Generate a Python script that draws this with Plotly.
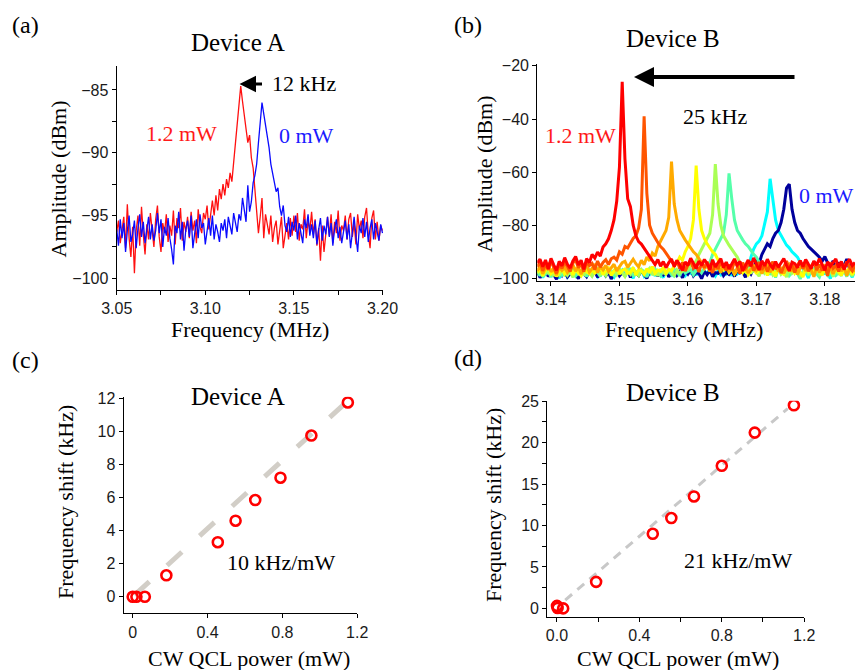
import plotly.graph_objects as go

# ---------------- data ----------------
# Panel (a): Device A spectra, frequency grid 3.050 .. 3.200 MHz, step 1 kHz
freq_a_start = 3.05
freq_a_step = 0.001
amp_a_12mW = [
    -96.3, -95.4, -97.2, -96.0, -95.1, -97.6, -94.1, -96.8, -98.3, -95.9,
    -99.6, -96.2, -95.0, -97.4, -94.3, -96.5, -98.1, -95.7, -96.9, -94.8,
    -96.1, -97.5, -95.3, -94.2, -96.7, -97.9, -95.6, -96.4, -94.9, -97.1,
    -95.8, -96.6, -94.6, -97.3, -95.2, -96.0, -94.4, -97.0, -95.5, -96.3,
    -95.1, -96.8, -94.7, -96.2, -95.4, -97.2, -94.5, -95.9, -96.4, -94.8,
    -95.3, -94.2, -96.1, -94.9, -93.8, -95.0, -93.4, -94.6, -92.9, -93.7,
    -92.5, -93.4, -92.1, -92.8, -91.6, -92.3, -90.8, -89.6, -88.1, -86.4,
    -84.7, -85.9, -86.9, -87.8, -89.2, -88.6, -90.4, -91.2, -92.8, -94.9,
    -96.4, -95.1, -93.6, -96.8, -94.9, -95.7, -96.5, -95.0, -97.1, -96.0,
    -95.4, -97.3, -96.2, -95.1, -97.6, -96.4, -95.6, -96.9, -95.2, -96.6,
    -95.0, -96.3, -94.8, -97.0, -95.7, -96.1, -94.5, -96.8, -95.4, -96.2,
    -94.7, -96.5, -95.3, -97.4, -96.0, -98.6, -95.8, -97.9, -96.3, -95.1,
    -96.6, -94.9, -97.2, -95.5, -96.4, -94.6, -97.0, -95.8, -96.2, -95.0,
    -96.9, -95.3, -94.8, -96.7, -95.6, -97.3, -94.9, -96.1, -95.4, -96.8,
    -95.1, -94.4, -96.5, -97.6, -95.2, -94.6, -96.9, -95.5, -97.0, -95.8, -96.2,
]
amp_a_0mW = [
    -96.1, -97.4, -95.3, -96.8, -95.6, -97.9, -96.2, -95.0, -97.1, -96.5,
    -95.4, -97.6, -96.0, -94.9, -96.7, -95.5, -97.2, -96.3, -95.1, -96.9,
    -95.7, -97.0, -96.2, -94.8, -96.4, -95.3, -97.5, -95.9, -96.6, -95.2,
    -96.8, -97.7, -98.9, -95.8, -96.4, -94.7, -96.9, -95.5, -97.8, -96.1,
    -95.4, -96.7, -95.0, -97.6, -96.2, -95.3, -96.8, -94.9, -96.0, -95.6,
    -97.3, -96.1, -95.2, -96.6, -95.0, -96.9, -95.7, -96.3, -97.1, -95.6,
    -96.2, -95.3, -96.8, -95.1, -95.9, -96.5, -94.8, -95.7, -96.3, -94.9,
    -95.4, -93.6, -94.8, -95.5, -92.6, -94.7, -93.9, -92.4, -91.8, -90.9,
    -89.2, -87.6, -86.0, -86.9, -87.8, -88.9, -89.6, -90.9, -91.7, -92.6,
    -93.1, -92.8, -94.3, -95.0, -94.2, -95.8, -96.3, -95.1, -96.7, -95.5,
    -96.2, -95.0, -96.9, -95.6, -96.4, -97.2, -95.3, -96.0, -94.9, -96.6,
    -95.7, -96.8, -95.4, -97.3, -96.1, -95.2, -97.0, -95.8, -96.5, -95.1,
    -96.7, -95.6, -97.4, -96.0, -95.3, -96.8, -95.9, -97.2, -96.3, -95.4,
    -96.9, -95.7, -97.6, -96.2, -95.1, -96.6, -97.9, -95.8, -96.4, -95.2,
    -96.7, -95.5, -97.1, -96.0, -95.3, -96.9, -95.6, -96.3, -97.0, -95.7, -96.4,
]

# Panel (b): Device B spectra, frequency grid 3.1380 .. 3.1844 MHz, step 0.4 kHz
freq_b_start = 3.138
freq_b_step = 0.0004
amp_b_darkblue = [
    -97.2, -99.8, -98.1, -96.7, -99.3, -97.9, -98.6, -100.3, -97.4, -98.9,
    -97.0, -99.5, -98.3, -96.9, -98.7, -100.1, -97.6, -98.2, -99.4, -97.3,
    -98.8, -97.1, -99.6, -98.0, -96.8, -99.0, -97.7, -100.2, -98.4, -97.5,
    -99.1, -97.8, -98.5, -96.6, -99.7, -97.2, -98.3, -99.0, -97.0, -98.6,
    -100.0, -97.4, -98.1, -96.9, -99.2, -97.6, -98.7, -97.1, -99.5, -98.0,
    -96.8, -98.9, -97.5, -99.8, -97.0, -98.4, -96.7, -99.1, -97.8, -98.2,
    -100.1, -97.3, -98.6, -97.0, -99.4, -97.9, -98.1, -96.6, -99.0, -97.7,
    -98.5, -97.2, -99.3, -96.9, -98.0, -97.6, -99.6, -97.1, -98.4, -96.3,
    -93.0, -94.5, -91.0, -89.0, -87.0, -88.0, -85.0, -83.0, -82.0, -79.0,
    -74.0, -66.0, -64.5, -74.0, -79.0, -82.0, -83.0, -85.0, -86.5, -88.0,
    -89.0, -90.0, -91.0, -92.0, -93.6, -91.8, -94.2, -95.5, -93.4, -96.1,
    -94.0, -96.8, -95.2, -92.7, -96.5, -94.4, -97.0,
]
amp_b_cyan = [
    -98.8, -97.3, -99.7, -98.0, -96.9, -99.2, -97.6, -98.5, -100.0, -97.1,
    -98.3, -99.5, -97.0, -98.9, -97.7, -99.8, -96.8, -98.2, -99.1, -97.4,
    -98.6, -97.2, -99.4, -98.1, -96.7, -99.0, -97.8, -98.7, -99.6, -97.5,
    -98.0, -96.9, -99.3, -97.6, -98.4, -99.9, -97.3, -98.8, -97.0, -99.2,
    -97.9, -98.5, -96.6, -99.1, -97.4, -98.2, -99.7, -97.1, -98.6, -97.8,
    -99.4, -97.0, -98.3, -96.8, -99.0, -97.7, -98.1, -96.5, -98.8, -97.2,
    -99.5, -97.6, -98.0, -96.7, -97.9, -99.2, -97.4, -98.6, -96.9, -98.3,
    -97.1, -99.0, -96.8, -98.4, -97.6, -96.5, -98.0, -97.0, -92.0, -89.0,
    -87.0, -86.0, -84.0, -80.0, -75.0, -62.5, -70.0, -78.0, -82.0, -84.0,
    -86.0, -87.5, -88.5, -90.0, -91.0, -92.0, -94.0, -96.3, -97.8, -99.9,
    -96.7, -98.4, -97.2, -99.3, -96.9, -98.1, -97.5, -100.1, -96.6, -98.7,
    -97.4, -99.0, -96.8, -98.3, -97.7, -99.6, -97.0,
]
amp_b_green = [
    -97.5, -99.0, -96.8, -98.4, -97.2, -99.6, -96.5, -98.0, -97.7, -99.2,
    -96.9, -98.6, -97.4, -96.6, -99.1, -97.9, -98.3, -96.7, -99.4, -97.1,
    -98.2, -96.4, -97.8, -99.3, -97.0, -98.5, -96.9, -97.6, -99.0, -98.1,
    -96.6, -97.3, -98.8, -97.5, -96.2, -99.2, -97.9, -98.4, -96.8, -97.4,
    -99.5, -97.0, -98.1, -96.5, -97.7, -99.0, -96.9, -98.3, -97.2, -98.6,
    -96.7, -97.4, -99.1, -96.3, -98.0, -97.5, -96.8, -98.7, -97.1, -96.4,
    -97.9, -96.2, -95.5, -94.0, -91.0, -89.0, -87.0, -85.0, -83.0, -76.0,
    -60.5, -70.0, -78.0, -82.0, -84.0, -85.5, -87.0, -88.0, -89.5, -91.0,
    -92.0, -93.8, -95.6, -97.9, -96.4, -98.6, -97.0, -99.7, -96.5, -98.2,
    -97.3, -96.6, -99.0, -97.8, -96.1, -98.5, -100.2, -97.4, -96.8, -98.9,
    -97.1, -96.4, -98.3, -99.5, -96.9, -97.6, -98.8, -96.3, -97.9, -99.1,
    -96.7, -98.0, -97.2, -99.3, -96.5, -98.4, -97.0,
]
amp_b_yellowgreen = [
    -98.3, -97.0, -99.4, -96.8, -98.0, -97.5, -99.1, -96.6, -98.7, -97.3,
    -96.9, -98.8, -97.4, -99.6, -96.5, -98.2, -97.1, -98.9, -96.7, -97.8,
    -99.2, -97.2, -96.4, -98.5, -97.6, -99.0, -96.9, -98.1, -97.0, -98.6,
    -96.6, -97.9, -99.3, -97.1, -98.4, -96.3, -97.7, -99.0, -96.8, -98.2,
    -97.4, -96.2, -98.7, -97.0, -99.1, -96.5, -97.9, -98.4, -96.7, -97.6,
    -99.0, -96.9, -98.0, -97.3, -96.1, -96.6, -95.2, -94.4, -93.5, -91.0,
    -89.0, -87.0, -85.0, -83.0, -76.0, -57.0, -72.0, -80.0, -84.0, -86.0,
    -87.5, -89.0, -90.5, -92.0, -94.1, -96.2, -97.5, -95.9, -98.1, -96.6,
    -97.8, -99.2, -96.4, -98.0, -97.1, -96.3, -98.7, -97.5, -96.0, -98.4,
    -97.2, -99.5, -96.8, -98.1, -97.0, -96.5, -98.9, -97.6, -96.2, -98.3,
    -97.4, -99.0, -96.7, -98.5, -97.3, -96.1, -98.8, -97.0, -99.4, -96.9,
    -98.2, -97.1, -96.6, -98.6, -97.5, -99.1, -96.8,
]
amp_b_yellow = [
    -97.8, -96.3, -98.9, -97.0, -95.7, -98.2, -96.9, -99.3, -97.4, -96.1,
    -98.5, -97.2, -95.9, -98.7, -96.6, -97.9, -99.0, -96.4, -97.6, -98.3,
    -96.8, -98.0, -97.1, -95.8, -98.6, -97.3, -96.2, -98.9, -97.5, -96.0,
    -98.4, -97.0, -96.5, -98.1, -97.7, -95.9, -98.8, -96.7, -97.2, -98.5,
    -96.3, -97.9, -95.6, -98.2, -96.9, -97.4, -95.8, -98.0, -96.6, -97.1,
    -95.4, -94.2, -92.0, -93.1, -90.0, -88.0, -85.0, -78.0, -57.5, -74.0,
    -82.0, -85.0, -87.0, -88.5, -90.0, -91.0, -93.2, -95.0, -96.8, -95.4,
    -97.6, -96.2, -98.4, -96.9, -95.5, -97.8, -96.4, -98.7, -97.1, -95.9,
    -98.2, -96.7, -97.5, -95.8, -98.9, -96.5, -97.3, -99.2, -96.0, -97.7,
    -98.5, -96.3, -97.0, -95.6, -98.1, -96.8, -97.9, -99.5, -96.2, -97.4,
    -95.9, -98.3, -96.6, -97.2, -98.8, -96.1, -97.5, -95.7, -98.4, -96.9,
    -97.3, -99.0, -96.4, -97.8, -95.8, -98.6, -96.7,
]
amp_b_orange = [
    -97.1, -95.4, -98.3, -96.0, -94.8, -97.5, -96.2, -98.8, -95.6, -97.0,
    -95.9, -97.8, -96.4, -94.9, -97.3, -95.7, -98.4, -96.1, -95.0, -97.6,
    -96.3, -94.6, -97.9, -95.5, -96.8, -95.1, -97.4, -96.0, -94.7, -97.2,
    -95.8, -94.1, -93.6, -95.9, -94.3, -92.8, -94.5, -95.7, -93.2, -94.9,
    -92.0, -93.4, -90.5, -91.6, -88.0, -86.0, -84.0, -82.0, -77.0, -56.0,
    -72.0, -78.0, -82.0, -84.0, -85.5, -87.0, -88.5, -90.0, -91.0, -92.5,
    -94.1, -96.3, -95.0, -97.4, -94.6, -96.8, -95.3, -97.9, -94.4, -96.1,
    -97.6, -95.2, -98.5, -96.0, -94.8, -97.3, -95.9, -98.0, -96.4, -94.9,
    -97.0, -95.6, -98.2, -96.3, -95.1, -97.7, -96.0, -94.7, -97.4, -95.8,
    -98.1, -96.2, -94.9, -97.5, -95.4, -98.6, -96.1, -95.0, -97.2, -95.7,
    -96.9, -99.4, -95.5, -97.8, -96.3, -94.8, -97.1, -95.9, -98.3, -96.0,
    -94.6, -97.3, -95.8, -99.0, -96.5, -95.2, -97.6,
]
amp_b_orangered = [
    -95.6, -93.9, -97.2, -94.5, -96.8, -93.4, -95.9, -98.1, -94.7, -96.3,
    -93.8, -95.5, -97.4, -94.2, -93.1, -96.0, -94.6, -97.5, -93.7, -95.2,
    -94.4, -96.7, -93.5, -95.8, -94.0, -93.0, -94.8, -92.6, -92.0, -93.1,
    -90.0, -90.9, -88.0, -88.6, -86.5, -85.0, -84.0, -81.0, -74.0, -39.0,
    -68.0, -80.0, -83.0, -85.0, -86.5, -88.0, -89.0, -90.5, -92.0, -93.6,
    -95.1, -93.2, -96.4, -94.0, -97.3, -94.9, -93.5, -96.2, -95.0, -97.6,
    -94.3, -96.0, -93.8, -95.7, -97.9, -94.6, -96.5, -93.9, -95.3, -97.0,
    -94.8, -96.9, -93.6, -95.5, -98.2, -94.1, -96.3, -95.0, -93.7, -97.1,
    -95.4, -93.9, -96.8, -94.4, -97.5, -95.2, -93.8, -96.6, -94.9, -98.0,
    -95.7, -93.5, -96.1, -94.7, -97.8, -95.0, -93.4, -96.4, -94.2, -97.3,
    -95.5, -93.6, -96.9, -94.8, -97.0, -95.3, -99.1, -94.0, -96.2, -95.1,
    -97.4, -94.5, -96.0, -93.7, -95.8, -97.2, -94.9,
]
amp_b_red = [
    -94.2, -92.8, -95.6, -93.1, -96.4, -92.5, -94.9, -97.0, -93.6, -95.3,
    -92.2, -94.7, -96.1, -93.4, -91.8, -95.0, -93.2, -96.6, -92.6, -94.1,
    -91.0, -92.4, -90.1, -91.6, -88.2, -87.0, -85.1, -82.0, -78.0, -71.0,
    -58.0, -26.0, -55.0, -70.0, -73.0, -80.0, -84.0, -86.2, -87.1, -88.6,
    -90.2, -91.6, -93.0, -94.8, -92.9, -95.4, -93.7, -96.0, -94.1, -92.7,
    -95.6, -93.3, -94.9, -97.1, -93.8, -95.2, -92.4, -94.6, -96.3, -93.5,
    -95.1, -92.9, -94.4, -96.8, -93.0, -95.7, -94.0, -92.6, -95.9, -93.9,
    -96.5, -94.3, -92.7, -95.0, -93.6, -97.2, -94.8, -93.1, -95.5, -92.3,
    -94.6, -96.9, -93.4, -95.3, -92.8, -94.9, -96.2, -93.7, -95.8, -94.2,
    -92.5, -95.1, -97.3, -93.9, -94.5, -96.0, -93.3, -95.6, -92.9, -94.7,
    -96.4, -93.5, -95.0, -92.6, -94.8, -97.0, -93.8, -95.4, -94.1, -92.7,
    -95.9, -93.6, -96.7, -94.3, -92.8, -95.2, -94.0,
]

# Panel (c): Device A frequency shift vs CW QCL power
power_c = [0.0, 0.02, 0.065, 0.18, 0.455, 0.55, 0.655, 0.79, 0.955, 1.15]
shift_c = [0.0, 0.0, 0.0, 1.3, 3.3, 4.6, 5.85, 7.2, 9.75, 11.75]
fit_c_x = [0.01, 1.15]
fit_c_y = [0.1, 11.85]

# Panel (d): Device B frequency shift vs CW QCL power
power_d = [0.0, 0.003, 0.03, 0.19, 0.465, 0.555, 0.665, 0.80, 0.96, 1.15]
shift_d = [0.3, 0.05, 0.0, 3.2, 9.0, 10.9, 13.5, 17.2, 21.2, 24.5]
fit_d_x = [0.04, 1.12]
fit_d_y = [1.0, 24.1]

# ---------------- figure ----------------
W, H = 855, 670
SERIF = "Liberation Serif, Times New Roman, serif"
SANS = "Liberation Sans, Arial, sans-serif"


def px(x):
    return x / W


def py(y):
    return 1 - y / H


freq_a = [round(freq_a_start + freq_a_step * i, 5) for i in range(len(amp_a_0mW))]
freq_b = [round(freq_b_start + freq_b_step * i, 5) for i in range(len(amp_b_red))]

fig = go.Figure()

# (a)
fig.add_trace(go.Scatter(x=freq_a, y=amp_a_12mW, mode="lines",
                         line=dict(color="#ff1010", width=1.3), xaxis="x", yaxis="y"))
fig.add_trace(go.Scatter(x=freq_a, y=amp_a_0mW, mode="lines",
                         line=dict(color="#0a0aff", width=1.3), xaxis="x", yaxis="y"))

# (b)
b_series = [
    (amp_b_cyan, "#00ffff"),
    (amp_b_darkblue, "#00009c"),
    (amp_b_green, "#55ffaa"),
    (amp_b_yellowgreen, "#aaff55"),
    (amp_b_yellow, "#ffff00"),
    (amp_b_orange, "#ffaa00"),
    (amp_b_orangered, "#ff5500"),
    (amp_b_red, "#ff0000"),
]
for vals, col in b_series:
    fig.add_trace(go.Scatter(x=freq_b, y=vals, mode="lines",
                             line=dict(color=col, width=3.0), xaxis="x2", yaxis="y2"))

# (c)
fig.add_trace(go.Scatter(x=fit_c_x, y=fit_c_y, mode="lines",
                         line=dict(color="#d2cec7", width=5, dash="20px,24px"),
                         xaxis="x3", yaxis="y3"))
fig.add_trace(go.Scatter(x=power_c, y=shift_c, mode="markers",
                         marker=dict(symbol="circle-open", size=10, color="#ff0000",
                                     line=dict(width=2.6, color="#ff0000")),
                         xaxis="x3", yaxis="y3"))

# (d)
fig.add_trace(go.Scatter(x=fit_d_x, y=fit_d_y, mode="lines",
                         line=dict(color="#c8c8c8", width=3, dash="9px,7px"),
                         xaxis="x4", yaxis="y4"))
fig.add_trace(go.Scatter(x=power_d, y=shift_d, mode="markers",
                         marker=dict(symbol="circle-open", size=10, color="#ff0000",
                                     line=dict(width=2.6, color="#ff0000")),
                         xaxis="x4", yaxis="y4"))

tick_font = dict(family=SANS, size=16, color="#1a1a1a")
base_axis = dict(showline=True, linecolor="black", linewidth=1.3, ticks="outside",
                 ticklen=4, tickwidth=1.2, tickcolor="black", showgrid=False,
                 zeroline=False, tickfont=tick_font, mirror=False, ticklabelstandoff=0,
                 automargin=False)
minor_style = dict(ticks="outside", ticklen=4, tickwidth=1.2, tickcolor="black", showgrid=False)

fig.update_layout(
    width=W, height=H, margin=dict(l=0, r=0, t=0, b=0, autoexpand=False),
    paper_bgcolor="white", plot_bgcolor="white", showlegend=False,
    xaxis=dict(base_axis, domain=[px(116.7), px(383)], range=[3.05, 3.2003], anchor="y",
               tickvals=[3.05, 3.10, 3.15, 3.20], ticktext=["3.05", "3.10", "3.15", "3.20"],
               minor=dict(minor_style, tickvals=[3.075, 3.125, 3.175])),
    yaxis=dict(base_axis, domain=[py(290), py(65.7)], range=[-100.93, -83.07], anchor="x",
               tickvals=[-100, -95, -90, -85],
               minor=dict(minor_style, tickvals=[-97.5, -92.5, -87.5])),
    xaxis2=dict(base_axis, domain=[px(537.3), 1.0], range=[3.138, 3.1844], anchor="y2",
                tickvals=[3.14, 3.15, 3.16, 3.17, 3.18],
                ticktext=["3.14", "3.15", "3.16", "3.17", "3.18"]),
    yaxis2=dict(base_axis, domain=[py(281), py(64.3)], range=[-101, -19.4], anchor="x2",
                tickvals=[-100, -80, -60, -40, -20]),
    xaxis3=dict(base_axis, domain=[px(123.7), px(357.3)], range=[-0.048, 1.2005], anchor="y3",
                tickvals=[0, 0.4, 0.8, 1.2], ticktext=["0", "0.4", "0.8", "1.2"]),
    yaxis3=dict(base_axis, domain=[py(613.3), py(396.7)], range=[-1.0, 12.1], anchor="x3",
                tickvals=[0, 2, 4, 6, 8, 10, 12]),
    xaxis4=dict(base_axis, domain=[px(547.3), px(804.3)], range=[-0.047, 1.2005], anchor="y4",
                tickvals=[0, 0.4, 0.8, 1.2], ticktext=["0.0", "0.4", "0.8", "1.2"],
                minor=dict(minor_style, tickvals=[0.2, 0.6, 1.0])),
    yaxis4=dict(base_axis, domain=[py(616.7), py(400.7)], range=[-1.0, 25.05], anchor="x4",
                tickvals=[0, 5, 10, 15, 20, 25],
                minor=dict(minor_style, tickvals=[2.5, 7.5, 12.5, 17.5, 22.5])),
)


def label(text, x, y, size=22, color="black", angle=0, xanchor="center"):
    fig.add_annotation(text=text, x=px(x), y=py(y), xref="paper", yref="paper",
                       showarrow=False, textangle=angle, xanchor=xanchor, yanchor="middle",
                       font=dict(family=SERIF, size=size, color=color))


# panel letters
label("(a)", 25, 25, size=24)
label("(b)", 468, 25, size=24)
label("(c)", 25, 360, size=24)
label("(d)", 468, 358, size=24)

# titles
label("Device A", 237.5, 43, size=25)
label("Device B", 673, 39, size=25)
label("Device A", 237.5, 396, size=25)
label("Device B", 672.5, 392, size=25)

# axis titles
label("Frequency (MHz)", 250, 329)
label("Frequency (MHz)", 684, 329)
label("Amplitude (dBm)", 57.5, 179, angle=-90)
label("Amplitude (dBm)", 483.5, 174, angle=-90)
label("CW QCL power (mW)", 249, 658)
label("CW QCL power (mW)", 677.5, 658)
label("Frequency shift (kHz)", 65, 502, angle=-90)
label("Frequency shift (kHz)", 494, 505, angle=-90)

# in-plot labels
label("12 kHz", 270, 84, xanchor="left")
label("1.2 mW", 181, 133, color="#ff1a1a")
label("0 mW", 306, 135, color="#1a1aff")
label("25 kHz", 715, 117)
label("1.2 mW", 580, 135, color="#ff1a1a")
label("0 mW", 826, 195, color="#1a1aff")
label("10 kHz/mW", 280.5, 562)
label("21 kHz/mW", 738, 560)

# arrows
fig.add_annotation(x=px(239.5), y=py(84), xref="paper", yref="paper", text="",
                   showarrow=True, ax=24, ay=0, arrowhead=2, arrowsize=1.1,
                   arrowwidth=3, arrowcolor="black")
fig.add_annotation(x=px(634), y=py(77), xref="paper", yref="paper", text="",
                   showarrow=True, ax=162, ay=0, arrowhead=2, arrowsize=1.0,
                   arrowwidth=4, arrowcolor="black")

fig.write_html("out.html", config={"displayModeBar": False},
               post_script="document.body.style.margin='0';document.body.style.overflow='hidden';")
